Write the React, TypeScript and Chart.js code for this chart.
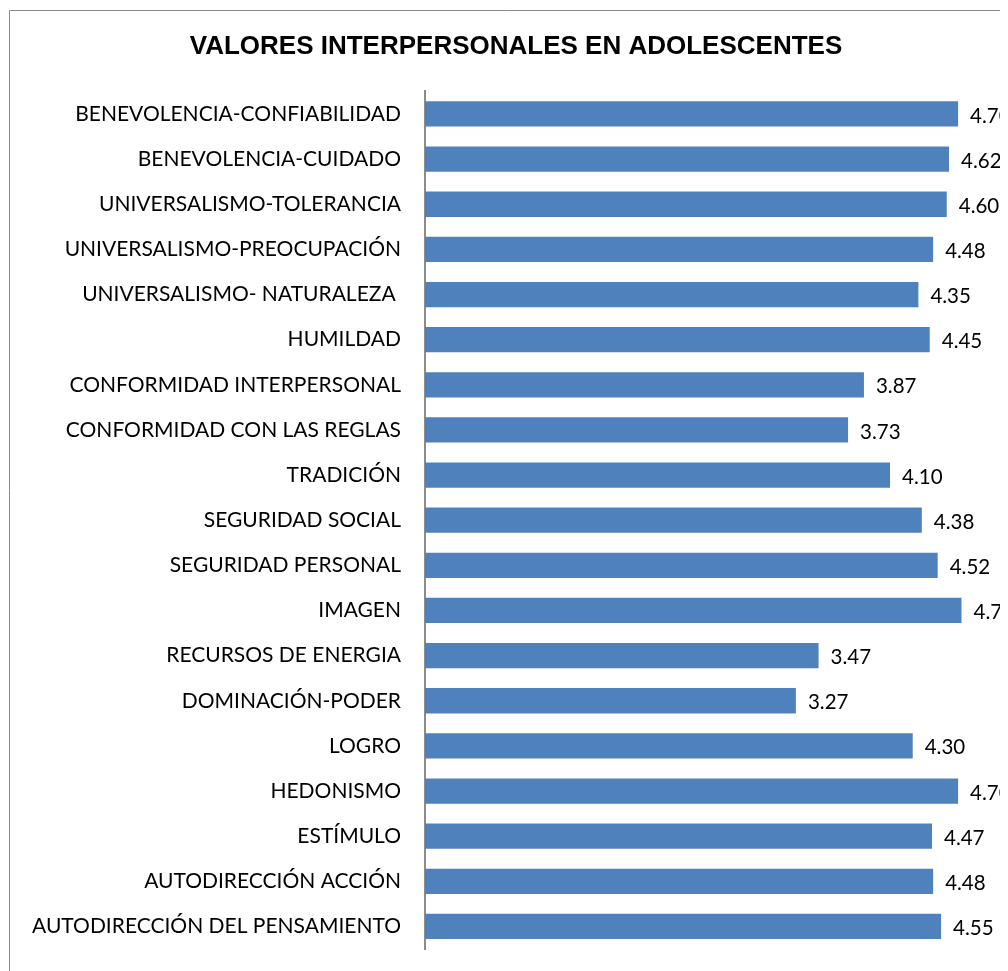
import React, { useEffect, useRef } from "react";
import { Chart, registerables } from "chart.js";

Chart.register(...registerables);

const TITLE = "VALORES INTERPERSONALES EN ADOLESCENTES";

const categories = [
  "BENEVOLENCIA-CONFIABILIDAD",
  "BENEVOLENCIA-CUIDADO",
  "UNIVERSALISMO-TOLERANCIA",
  "UNIVERSALISMO-PREOCUPACIÓN",
  "UNIVERSALISMO- NATURALEZA ",
  "HUMILDAD",
  "CONFORMIDAD INTERPERSONAL",
  "CONFORMIDAD CON LAS REGLAS",
  "TRADICIÓN",
  "SEGURIDAD SOCIAL",
  "SEGURIDAD PERSONAL",
  "IMAGEN",
  "RECURSOS DE ENERGIA",
  "DOMINACIÓN-PODER",
  "LOGRO",
  "HEDONISMO",
  "ESTÍMULO",
  "AUTODIRECCIÓN ACCIÓN",
  "AUTODIRECCIÓN DEL PENSAMIENTO",
];

const values = [
  4.7, 4.62, 4.6, 4.48, 4.35, 4.45, 3.87, 3.73, 4.1, 4.38, 4.52, 4.73, 3.47,
  3.27, 4.3, 4.7, 4.47, 4.48, 4.55,
];

const X_MIN = 0;
const X_MAX = 5.14;

const LABEL_FONT = "Lato, 'Open Sans', sans-serif";

const frameAndLabels = {
  id: "frameAndLabels",
  beforeDraw(chart: any) {
    const { ctx } = chart;
    ctx.save();
    ctx.strokeStyle = "#8c8c8c";
    ctx.lineWidth = 1;
    ctx.beginPath();
    ctx.moveTo(1.5, chart.height);
    ctx.lineTo(1.5, 2.5);
    ctx.lineTo(chart.width, 2.5);
    ctx.stroke();
    ctx.restore();
  },
  afterDatasetsDraw(chart: any) {
    const { ctx } = chart;
    const meta = chart.getDatasetMeta(0);
    ctx.save();
    ctx.fillStyle = "#000";
    ctx.font = `20.5px ${LABEL_FONT}`;
    ctx.textAlign = "left";
    ctx.textBaseline = "middle";
    meta.data.forEach((bar: any, i: number) => {
      ctx.fillText(values[i].toFixed(2), bar.x + 12, bar.y + 2);
    });
    ctx.restore();
  },
};

export default function App() {
  const ref = useRef<HTMLCanvasElement>(null);

  useEffect(() => {
    if (!ref.current) return;
    const chart = new Chart(ref.current, {
      type: "bar",
      data: {
        labels: categories,
        datasets: [
          {
            data: values,
            backgroundColor: "#4f81bd",
            borderColor: "#4f81bd",
            borderWidth: 0,
            barPercentage: 0.56,
            categoryPercentage: 1,
          },
        ],
      },
      options: {
        indexAxis: "y",
        animation: false,
        responsive: false,
        maintainAspectRatio: false,
        layout: { padding: { left: 16, right: 0, top: 6, bottom: 22 } },
        plugins: {
          legend: { display: false },
          tooltip: { enabled: false },
          title: {
            display: true,
            text: TITLE,
            color: "#000",
            font: { family: "'Liberation Sans', Arial, sans-serif", size: 26, weight: "bold" },
            padding: { top: 17.6, bottom: 28.6 },
          },
        },
        scales: {
          x: {
            min: X_MIN,
            max: X_MAX,
            display: false,
            grid: { display: false },
          },
          y: {
            grid: { display: false, drawTicks: false },
            border: { display: true, color: "#8c8c8c", width: 2 },
            ticks: {
              color: "#000",
              font: { family: LABEL_FONT, size: 21 },
              padding: 24,
              autoSkip: false,
            },
            afterFit(scale: any) {
              scale.width = 401;
              scale.paddingTop = 0;
              scale.paddingBottom = 0;
            },
          },
        },
      },
      plugins: [frameAndLabels],
    });
    return () => chart.destroy();
  }, []);

  return (
    <div style={{ width: 1000, height: 963 }}>
      <canvas ref={ref} width={1000} height={963} style={{ display: "block" }} />
    </div>
  );
}
